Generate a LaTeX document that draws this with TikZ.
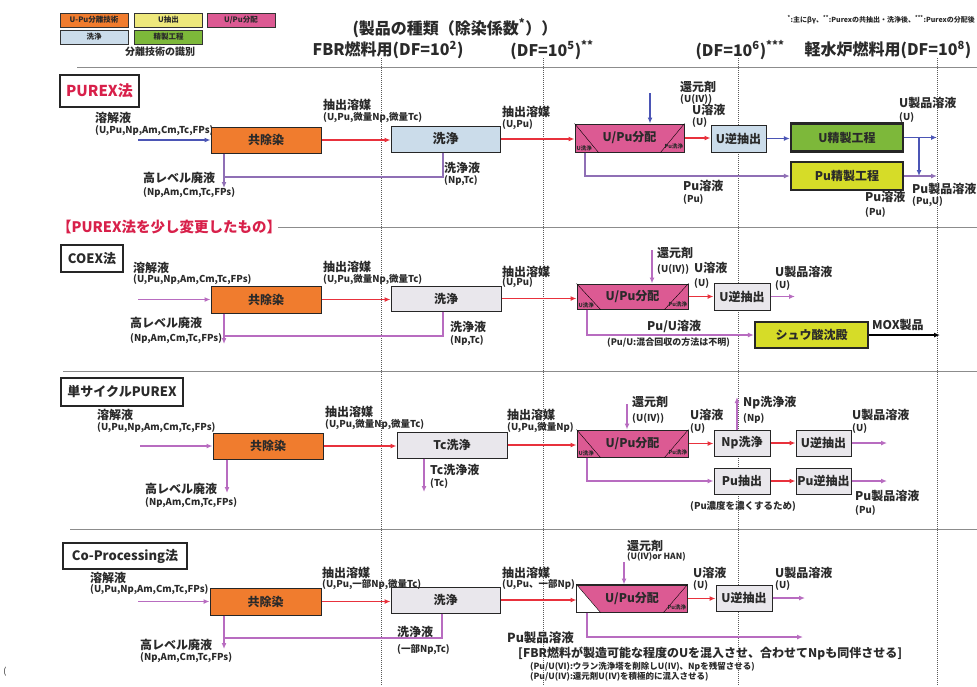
\documentclass[tikz,border=0pt]{standalone}
\usepackage{fontspec}
\setmainfont{Noto Sans CJK JP}
\usetikzlibrary{arrows.meta}
\definecolor{orng}{HTML}{F07C2E}
\definecolor{pnk}{HTML}{DC5A93}
\definecolor{ylw}{HTML}{EEE87C}
\definecolor{lblue}{HTML}{CBDCEA}
\definecolor{grn}{HTML}{7DB83A}
\definecolor{ygrn}{HTML}{D6DC28}
\definecolor{gbox}{HTML}{E9E7EC}
\definecolor{rarr}{HTML}{E8313C}
\definecolor{barr}{HTML}{4B55B5}
\definecolor{parr}{HTML}{B86CC0}
\definecolor{parrB}{HTML}{8F6FB5}
\definecolor{txt}{HTML}{2A2A2A}
\definecolor{ttl}{HTML}{D8204A}
\newcommand{\myfs}[1]{\fontsize{#1}{#1}\selectfont}
\tikzset{
  ar/.style={-{Latex[length=6pt,width=5pt]}, line width=1.2pt},
  rarrow/.style={ar, draw=rarr},
  barrow/.style={ar, draw=barr},
  parrow/.style={ar, draw=parr},
  parrowB/.style={ar, draw=parrB},
  karrow/.style={ar, draw=black},
  pline/.style={draw=parr, line width=1.2pt},
  plineB/.style={draw=parrB, line width=1.2pt},
  box/.style={draw=black!85, line width=1pt, inner sep=0, text=txt, font=\myfs{12}\bfseries},
  tbox/.style={box, line width=2.3pt},
  legbox/.style={draw=black!80, line width=1pt, inner sep=0, minimum width=68pt, minimum height=14pt, text=txt, font=\myfs{7.5}\bfseries},
  ttlbox/.style={draw=black!85, line width=1.5pt, inner sep=0, text=txt, font=\myfs{13}\bfseries},
  lbl/.style={anchor=west, inner sep=0, text=txt, font=\myfs{12}\bfseries},
  sub/.style={anchor=west, inner sep=0, text=txt, font=\myfs{9.5}\bfseries},
  tiny/.style={anchor=west, inner sep=0, text=txt, font=\myfs{5.5}\bfseries},
  hdr/.style={inner sep=0, text=txt, font=\myfs{16}\bfseries},
  vdot/.style={draw=black!65, line width=0.8pt, dash pattern=on 1pt off 1pt},
  sep/.style={draw=black!45, line width=0.7pt},
}
\begin{document}
\begin{tikzpicture}[x=1pt,y=-1pt]
\useasboundingbox (0,0) rectangle (977,686);
\fill[white] (0,0) rectangle (977,686);

% ---------- legend ----------
\node[legbox, fill=orng] (lg1) at (94,20) {U-Pu分離技術};
\node[legbox, fill=ylw] (lg2) at (168.5,20) {U抽出};
\node[legbox, fill=pnk] (lg3) at (241,20) {U/Pu分配};
\node[legbox, fill=lblue] (lg4) at (94,37) {洗浄};
\node[legbox, fill=grn] (lg5) at (168.5,37) {精製工程};
\node[inner sep=0, text=txt, font=\myfs{10}\bfseries] (lgt) at (160,52) {分離技術の識別};

% ---------- header ----------
\node[hdr] (hd) at (455,28) {(製品の種類（除染係数\textsuperscript{*}））};
\node[inner sep=0, text=txt, font=\myfs{7}\bfseries, anchor=east] (nt) at (975,20) {\textsuperscript{*}:主にβγ、\textsuperscript{**}:Purexの共抽出・洗浄後、\textsuperscript{***}:Purexの分配後};
\node[hdr] (h1) at (388,50) {FBR燃料用(DF=10\textsuperscript{2})};
\node[hdr] (h2) at (552,50) {(DF=10\textsuperscript{5})\textsuperscript{**}};
\node[hdr] (h3) at (740,50) {(DF=10\textsuperscript{6})\textsuperscript{***}};
\node[hdr] (h4) at (888,50) {軽水炉燃料用(DF=10\textsuperscript{8})};

% ---------- grid lines ----------
\draw[sep] (77,67) -- (977,67);
\draw[sep] (278,227) -- (977,227);
\draw[sep] (63,371) -- (977,371);
\draw[sep] (70,529) -- (977,529);
\foreach \xx in {381,543,738,937} \draw[vdot] (\xx,58) -- (\xx,686);

% ================= PUREX =================
\node[ttlbox, line width=2pt, text=ttl, font=\myfs{15}\bfseries, minimum width=79pt, minimum height=32pt] (t1) at (99.5,91) {PUREX法};
\node[lbl] (a1) at (95,118) {溶解液};
\node[sub] (a1s) at (95,131) {(U,Pu,Np,Am,Cm,Tc,FPs)};
\node[box, fill=orng, minimum width=110pt, minimum height=26pt] (k1) at (266,140) {共除染};
\coordinate (k1in) at (138,140);
\draw[barrow] (k1in) -- (k1.west);
\node[box, fill=lblue, minimum width=109pt, minimum height=26pt, font=\myfs{13}\bfseries] (s1) at (445.5,139) {洗浄};
\draw[rarrow] (k1.east) -- (k1.east -| s1.west);
\node[lbl] (b1) at (323,105) {抽出溶媒};
\node[sub] (b1s) at (323,118) {(U,Pu,微量Np,微量Tc)};
\coordinate (hw1) at (224,188);
\coordinate (w1) at (443,177);
\draw[plineB] (s1.south -| w1) -- (w1) -- (w1 -| hw1);
\draw[parrowB] (k1.south -| hw1) -- (hw1);
\node[lbl] (c1) at (143,178) {高レベル廃液};
\node[sub] (c1s) at (143,193) {(Np,Am,Cm,Tc,FPs)};
\node[lbl] (d1) at (444,168) {洗浄液};
\node[sub] (d1s) at (444,181) {(Np,Tc)};
% right part
\node[box, fill=pnk, minimum width=109pt, minimum height=28pt] (p1) at (629.5,138) {U/Pu分配};
\draw (p1.north west) -- ([xshift=24pt]p1.south west);
\draw ([xshift=-24pt]p1.south east) -- (p1.north east);
\node[tiny] (p1a) at ([xshift=2pt,yshift=4pt]p1.south west) {U洗浄};
\node[tiny] (p1b) at ([xshift=-20pt,yshift=6pt]p1.south east) {Pu洗浄};
\draw[rarrow] (s1.east) -- (s1.east -| p1.west);
\node[lbl] (e1) at (502,112) {抽出溶媒};
\node[sub] (e1s) at (502,125) {(U,Pu)};
\coordinate (r1) at (650,93);
\draw[barrow] (r1) -- (r1 |- p1.north);
\node[lbl] (f1) at (680,87) {還元剤};
\node[sub] (f1s) at (680,99) {(U(IV))};
\node[lbl] (g1) at (692,110) {U溶液};
\node[sub] (g1s) at (692,122) {(U)};
\node[box, fill=lblue, minimum width=55pt, minimum height=27pt] (ue1) at (738.5,138.5) {U逆抽出};
\draw[rarrow] (p1.east) -- (p1.east -| ue1.west);
\node[tbox, fill=grn, minimum width=112pt, minimum height=28pt] (up1) at (847,137.5) {U精製工程};
\node[tbox, fill=ygrn, minimum width=112pt, minimum height=28pt] (pp1) at (847,176) {Pu精製工程};
\draw[barrow] (ue1.east) -- (ue1.east -| up1.west);
\coordinate (pu1) at (585,176);
\draw[parrowB] (p1.south -| pu1) -- (pu1) -- (pp1.west);
\coordinate (o1) at (937,137.5);
\coordinate (o2) at (937,176);
\draw[barrow] (up1.east) -- (o1);
\draw[parrowB] (pp1.east) -- (o2);
\coordinate (j1) at (919,137.5);
\draw[barrow] (j1) -- (j1 |- pp1.east);
\node[lbl] (m1) at (683,186) {Pu溶液};
\node[sub] (m1s) at (683,199) {(Pu)};
\node[lbl] (n1) at (899,103) {U製品溶液};
\node[sub] (n1s) at (899,117) {(U)};
\node[lbl] (q1) at (912,189) {Pu製品溶液};
\node[sub] (q1s) at (912,202) {(Pu,U)};
\node[lbl] (v1) at (865,197) {Pu溶液};
\node[sub] (v1s) at (865,212) {(Pu)};

% ================= COEX =================
\node[anchor=west, inner sep=0, text=ttl, font=\myfs{14.5}\bfseries] (sub2) at (57,227) {【PUREX法を少し変更したもの】};
\node[ttlbox, minimum width=62pt, minimum height=27pt] (t2) at (92,258.5) {COEX法};
\node[lbl] (a2) at (133,268) {溶解液};
\node[sub] (a2s) at (133,280) {(U,Pu,Np,Am,Cm,Tc,FPs)};
\node[box, fill=orng, minimum width=110pt, minimum height=27pt] (k2) at (266,299.5) {共除染};
\coordinate (k2in) at (138,299.5);
\draw[parrow] (k2in) -- (k2.west);
\node[box, fill=gbox, minimum width=110pt, minimum height=25pt] (s2) at (446,298.5) {洗浄};
\draw[rarrow] (k2.east) -- (k2.east -| s2.west);
\node[lbl] (b2) at (323,267) {抽出溶媒};
\node[sub] (b2s) at (323,280) {(U,Pu,微量Np,微量Tc)};
\coordinate (hw2) at (224,344);
\coordinate (w2) at (443,336);
\draw[pline] (s2.south -| w2) -- (w2) -- (w2 -| hw2);
\draw[parrow] (k2.south -| hw2) -- (hw2);
\node[lbl] (c2) at (130,323) {高レベル廃液};
\node[sub] (c2s) at (130,339) {(Np,Am,Cm,Tc,FPs)};
\node[lbl] (d2) at (450,327) {洗浄液};
\node[sub] (d2s) at (450,341) {(Np,Tc)};
\node[box, fill=pnk, minimum width=111pt, minimum height=25pt] (p2) at (632.5,296.5) {U/Pu分配};
\draw (p2.north west) -- ([xshift=24pt]p2.south west);
\draw ([xshift=-24pt]p2.south east) -- (p2.north east);
\node[tiny] (p2a) at ([xshift=2pt,yshift=4pt]p2.south west) {U洗浄};
\node[tiny] (p2b) at ([xshift=-20pt,yshift=5pt]p2.south east) {Pu洗浄};
\draw[rarrow] (s2.east) -- (s2.east -| p2.west);
\node[lbl] (e2) at (502,272) {抽出溶媒};
\node[sub] (e2s) at (502,283) {(U,Pu)};
\coordinate (r2) at (652,250);
\draw[parrow] (r2) -- (r2 |- p2.north);
\node[lbl] (f2) at (657,253) {還元剤};
\node[sub] (f2s) at (657,269) {(U(IV))};
\node[lbl] (g2) at (694,268) {U溶液};
\node[sub] (g2s) at (694,283) {(U)};
\node[box, fill=gbox, minimum width=56pt, minimum height=27pt] (ue2) at (742,296.5) {U逆抽出};
\draw[rarrow] (p2.east) -- (p2.east -| ue2.west);
\coordinate (o3) at (795,296.5);
\draw[parrow] (ue2.east) -- (o3);
\node[lbl] (n2) at (775,272) {U製品溶液};
\node[sub] (n2s) at (775,285) {(U)};
\node[tbox, fill=ygrn, minimum width=113pt, minimum height=26pt] (sh2) at (811.5,335) {シュウ酸沈殿};
\coordinate (pu2) at (587,335);
\draw[parrow] (p2.south -| pu2) -- (pu2) -- (sh2.west);
\node[lbl] (m2) at (647,326) {Pu/U溶液};
\node[sub, font=\myfs{9}\bfseries] (m2s) at (607,343) {(Pu/U:混合回収の方法は不明)};
\coordinate (mx2) at (940,335);
\draw[karrow] (sh2.east) -- (mx2);
\node[lbl] (x2) at (872,325) {MOX製品};

% ================= single cycle PUREX =================
\node[ttlbox, minimum width=122pt, minimum height=28pt] (t3) at (122,392) {単サイクルPUREX};
\node[lbl] (a3) at (97,415) {溶解液};
\node[sub] (a3s) at (97,428) {(U,Pu,Np,Am,Cm,Tc,FPs)};
\node[box, fill=orng, minimum width=110pt, minimum height=26pt] (k3) at (268,446) {共除染};
\coordinate (k3in) at (140,446);
\draw[parrow] (k3in) -- (k3.west);
\node[box, fill=gbox, minimum width=110pt, minimum height=26pt] (s3) at (452,445) {Tc洗浄};
\draw[rarrow] (k3.east) -- (k3.east -| s3.west);
\node[lbl] (b3) at (325,412) {抽出溶媒};
\node[sub] (b3s) at (325,425) {(U,Pu,微量Np,微量Tc)};
\coordinate (hw3) at (227,493);
\draw[parrow] (k3.south -| hw3) -- (hw3);
\node[lbl] (c3) at (145,489) {高レベル廃液};
\node[sub] (c3s) at (145,503) {(Np,Am,Cm,Tc,FPs)};
\coordinate (tw3) at (424,492);
\draw[parrow] (s3.south -| tw3) -- (tw3);
\node[lbl] (d3) at (430,470) {Tc洗浄液};
\node[sub] (d3s) at (430,483) {(Tc)};
\node[box, fill=pnk, minimum width=111pt, minimum height=27pt] (p3) at (632.5,443.5) {U/Pu分配};
\draw (p3.north west) -- ([xshift=24pt]p3.south west);
\draw ([xshift=-24pt]p3.south east) -- (p3.north east);
\node[tiny] (p3a) at ([xshift=2pt,yshift=4pt]p3.south west) {U洗浄};
\node[tiny] (p3b) at ([xshift=-20pt,yshift=5pt]p3.south east) {Pu洗浄};
\draw[rarrow] (s3.east) -- (s3.east -| p3.west);
\node[lbl] (e3) at (507,415) {抽出溶媒};
\node[sub] (e3s) at (507,428) {(U,Pu,微量Np)};
\coordinate (r3) at (627,404);
\draw[parrow] (r3) -- (r3 |- p3.north);
\node[lbl] (f3) at (632,402) {還元剤};
\node[sub] (f3s) at (632,418) {(U(IV))};
\node[lbl] (g3) at (690,415) {U溶液};
\node[sub] (g3s) at (690,428) {(U)};
\node[box, fill=gbox, minimum width=56pt, minimum height=26pt] (np3) at (742,443) {Np洗浄};
\draw[rarrow] (p3.east) -- (p3.east -| np3.west);
\coordinate (nw3) at (737,397);
\draw[parrow] (np3.north -| nw3) -- (nw3);
\node[lbl] (h3l) at (743,403) {Np洗浄液};
\node[sub] (h3s) at (743,418) {(Np)};
\node[box, fill=gbox, minimum width=55pt, minimum height=26pt] (ue3) at (823.5,443) {U逆抽出};
\draw[rarrow] (np3.east) -- (ue3.west);
\coordinate (o5) at (887,443);
\draw[parrow] (ue3.east) -- (o5);
\node[lbl] (n3) at (852,415) {U製品溶液};
\node[sub] (n3s) at (852,428) {(U)};
\node[box, fill=gbox, minimum width=56pt, minimum height=26pt] (pe3) at (742,481) {Pu抽出};
\node[box, fill=gbox, minimum width=55pt, minimum height=26pt] (pb3) at (823.5,481) {Pu逆抽出};
\coordinate (pu3) at (587,481);
\draw[parrow] (p3.south -| pu3) -- (pu3) -- (pe3.west);
\draw[rarrow] (pe3.east) -- (pb3.west);
\coordinate (o6) at (887,481);
\draw[parrow] (pb3.east) -- (o6);
\node[lbl] (q3) at (855,496) {Pu製品溶液};
\node[sub] (q3s) at (855,510) {(Pu)};
\node[sub] (y3) at (690,506) {(Pu濃度を濃くするため)};

% ================= Co-Processing =================
\node[ttlbox, minimum width=124pt, minimum height=26pt] (t4) at (125,556) {Co-Processing法};
\node[lbl] (a4) at (90,578) {溶解液};
\node[sub] (a4s) at (90,590) {(U,Pu,Np,Am,Cm,Tc,FPs)};
\node[box, fill=orng, minimum width=111pt, minimum height=27pt] (k4) at (265.5,601.5) {共除染};
\coordinate (k4in) at (138,601.5);
\draw[parrow] (k4in) -- (k4.west);
\node[box, fill=gbox, minimum width=109pt, minimum height=26pt] (s4) at (445.5,600) {洗浄};
\draw[rarrow] (k4.east) -- (k4.east -| s4.west);
\node[lbl] (b4) at (322,573) {抽出溶媒};
\node[sub] (b4s) at (322,585) {(U,Pu,一部Np,微量Tc)};
\coordinate (hw4) at (224,649);
\coordinate (w4) at (442,638);
\draw[pline] (s4.south -| w4) -- (w4) -- (w4 -| hw4);
\draw[parrow] (k4.south -| hw4) -- (hw4);
\node[lbl] (c4) at (140,645) {高レベル廃液};
\node[sub] (c4s) at (140,658) {(Np,Am,Cm,Tc,FPs)};
\node[lbl] (d4) at (397,632) {洗浄液};
\node[sub] (d4s) at (397,650) {(一部Np,Tc)};
\node[box, fill=pnk, minimum width=110pt, minimum height=27pt] (p4) at (632,598.5) {};
\fill[white] (p4.north west) -- (p4.south west) -- ([xshift=24pt]p4.south west) -- cycle;
\draw[black!85, line width=1pt] (p4.north west) rectangle (p4.south east);
\draw (p4.north west) -- ([xshift=24pt]p4.south west);
\draw ([xshift=-24pt]p4.south east) -- (p4.north east);
\node[inner sep=0, text=txt, font=\myfs{12}\bfseries] (p4t) at (p4.center) {U/Pu分配};
\node[tiny] (p4b) at ([xshift=-20pt,yshift=5pt]p4.south east) {Pu洗浄};
\draw[rarrow] (s4.east) -- (s4.east -| p4.west);
\node[lbl] (e4) at (502,573) {抽出溶媒};
\node[sub] (e4s) at (502,585) {(U,Pu、一部Np)};
\coordinate (r4) at (624,562);
\draw[parrow] (r4) -- (r4 |- p4.north);
\node[lbl] (f4) at (627,546) {還元剤};
\node[sub, font=\myfs{8.5}\bfseries] (f4s) at (627,557) {(U(IV)or HAN)};
\node[lbl] (g4) at (693,573) {U溶液};
\node[sub] (g4s) at (693,585) {(U)};
\node[box, fill=gbox, minimum width=56pt, minimum height=26pt] (ue4) at (744,598) {U逆抽出};
\draw[rarrow] (p4.east) -- (p4.east -| ue4.west);
\coordinate (o7) at (805,598);
\draw[parrow] (ue4.east) -- (o7);
\node[lbl] (n4) at (775,573) {U製品溶液};
\node[sub] (n4s) at (775,585) {(U)};
\coordinate (pu4) at (587,637);
\coordinate (o8) at (803,637);
\draw[parrow] (p4.south -| pu4) -- (pu4) -- (o8);
\node[lbl, font=\myfs{12.5}\bfseries] (q4) at (507,638) {Pu製品溶液};
\node[lbl, font=\myfs{12}\bfseries] (z4) at (518,653) {[FBR燃料が製造可能な程度のUを混入させ、合わせてNpも同伴させる]};
\node[sub, font=\myfs{8.5}\bfseries] (z4a) at (530,667) {(Pu/U(VI):ウラン洗浄塔を削除しU(IV)、Npを残留させる)};
\node[sub, font=\myfs{8.5}\bfseries] (z4b) at (530,677) {(Pu/U(IV):還元剤U(IV)を積極的に混入させる)};
\node[inner sep=0, text=txt, font=\myfs{9}] (paren) at (5,672) {(};
\end{tikzpicture}
\end{document}
